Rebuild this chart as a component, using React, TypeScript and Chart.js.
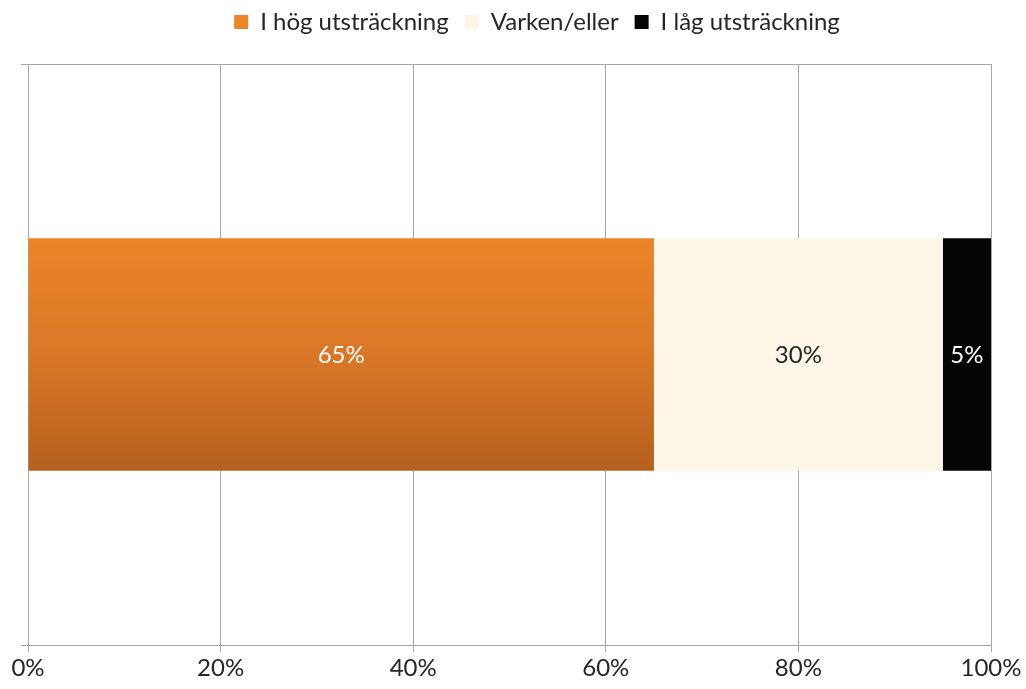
import React, { useEffect, useRef } from "react";
import { Chart, registerables } from "chart.js";

Chart.register(...registerables);

const categories: string[] = [""];
const seriesNames: string[] = ["I hög utsträckning", "Varken/eller", "I låg utsträckning"];
const hogValues: number[] = [65];
const varkenValues: number[] = [30];
const lagValues: number[] = [5];
const xTicks: number[] = [0, 20, 40, 60, 80, 100];

const FONT = "Lato, 'Liberation Sans', sans-serif";

const legendSpacer = {
  id: "legendSpacer",
  beforeInit(chart: any) {
    const orig = chart.legend.fit;
    chart.legend.fit = function fit() {
      orig.bind(chart.legend)();
      this.height += 14;
    };
  },
  afterLayout(chart: any) {
    const lg = chart.legend;
    lg.left += 31;
    lg.right += 31;
    lg.top -= 6;
    lg.bottom -= 6;
  },
};

const valueLabels = {
  id: "valueLabels",
  afterDatasetsDraw(chart: any) {
    const ctx = chart.ctx;
    const colors = ["#ffffff", "#262626", "#ffffff"];
    chart.data.datasets.forEach((ds: any, i: number) => {
      const meta = chart.getDatasetMeta(i);
      meta.data.forEach((el: any, j: number) => {
        const v = ds.data[j];
        const { x, base, y } = el.getProps(["x", "base", "y"], true);
        ctx.save();
        ctx.font = `24px ${FONT}`;
        ctx.fillStyle = colors[i];
        ctx.textAlign = "center";
        ctx.textBaseline = "middle";
        ctx.fillText(`${v}%`, (x + base) / 2, y + 1);
        ctx.restore();
      });
    });
  },
};

export default function App() {
  const ref = useRef<HTMLCanvasElement | null>(null);
  useEffect(() => {
    if (!ref.current) return;
    const orangeFill = (c: any) => {
      const chart = c.chart;
      const area = chart.chartArea;
      if (!area) return "#E07A26";
      const h = area.bottom - area.top;
      const g = chart.ctx.createLinearGradient(0, area.top + 0.3 * h, 0, area.top + 0.7 * h);
      g.addColorStop(0, "#EC8429");
      g.addColorStop(0.5, "#DA7726");
      g.addColorStop(1, "#B5601E");
      return g;
    };
    const chart = new Chart(ref.current, {
      type: "bar",
      data: {
        labels: categories,
        datasets: [
          { label: seriesNames[0], data: hogValues, backgroundColor: orangeFill as any },
          { label: seriesNames[1], data: varkenValues, backgroundColor: "#FEF6E6" },
          { label: seriesNames[2], data: lagValues, backgroundColor: "#050505" },
        ],
      },
      options: {
        indexAxis: "y",
        animation: false,
        responsive: true,
        maintainAspectRatio: false,
        datasets: { bar: { categoryPercentage: 0.4, barPercentage: 1 } },
        layout: { padding: { left: 21, right: 35, top: 0, bottom: 4 } },
        scales: {
          x: {
            stacked: true,
            min: 0,
            max: 100,
            afterBuildTicks: (scale: any) => {
              scale.ticks = xTicks.map((v) => ({ value: v }));
            },
            ticks: {
              callback: (v: any) => `${v}%`,
              color: "#262626",
              font: { family: FONT, size: 24 },
              padding: 2,
              maxRotation: 0,
            },
            grid: { color: "#A6A6A6", lineWidth: 1, tickLength: 7 },
            border: { color: "#A6A6A6" },
          },
          y: {
            stacked: true,
            ticks: { display: false },
            grid: { color: "#A6A6A6", lineWidth: 1, tickLength: 7, offset: true },
            border: { color: "#A6A6A6" },
          },
        },
        plugins: {
          legend: {
            position: "top",
            labels: {
              boxWidth: 14,
              boxHeight: 14,
              padding: 16,
              color: "#262626",
              font: { family: FONT, size: 24 },
            },
          },
          tooltip: { enabled: false },
        },
      },
      plugins: [legendSpacer, valueLabels],
    });
    return () => chart.destroy();
  }, []);
  return (
    <div style={{ position: "fixed", left: 0, top: 0, width: 1026, height: 689, background: "#fff" }}>
      <canvas ref={ref} />
    </div>
  );
}
